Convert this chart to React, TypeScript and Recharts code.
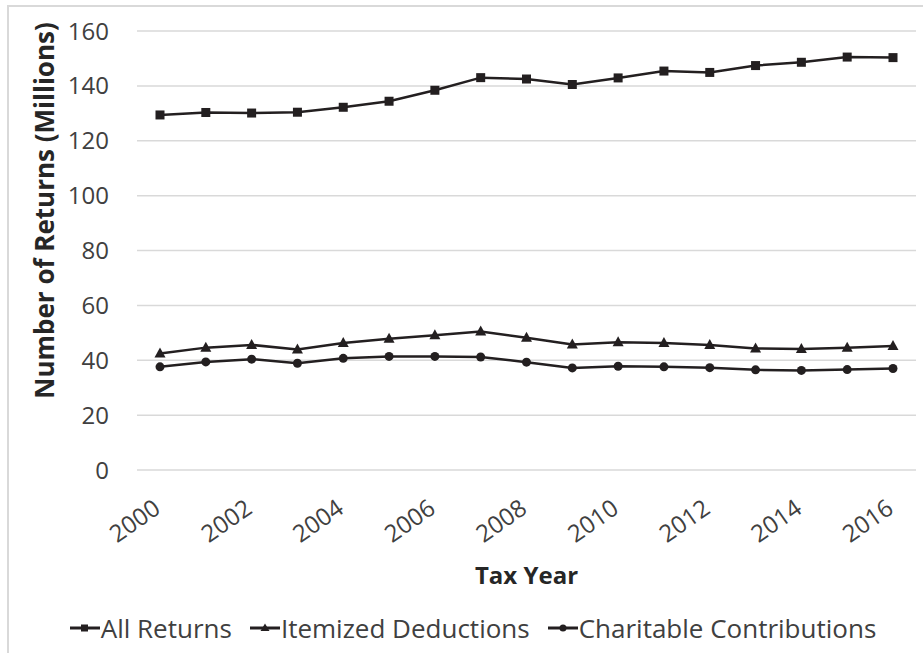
import React from "react";
import {
  LineChart,
  Line,
  XAxis,
  YAxis,
  CartesianGrid,
  Legend,
  Label,
} from "recharts";

// ── data ────────────────────────────────────────────────────────────────────
const YEARS = [
  "2000", "2001", "2002", "2003", "2004", "2005", "2006", "2007", "2008",
  "2009", "2010", "2011", "2012", "2013", "2014", "2015", "2016",
];
const ALL_RETURNS = [
  129.4, 130.3, 130.1, 130.4, 132.2, 134.4, 138.4, 143.0, 142.5,
  140.5, 142.9, 145.4, 144.9, 147.4, 148.6, 150.5, 150.3,
];
const ITEMIZED = [
  42.5, 44.6, 45.6, 43.9, 46.3, 47.8, 49.1, 50.5, 48.2,
  45.7, 46.6, 46.3, 45.6, 44.3, 44.1, 44.6, 45.2,
];
const CHARITABLE = [
  37.6, 39.4, 40.4, 38.9, 40.7, 41.4, 41.4, 41.2, 39.3,
  37.2, 37.8, 37.6, 37.3, 36.5, 36.3, 36.6, 37.0,
];
const Y_TICKS = [0, 20, 40, 60, 80, 100, 120, 140, 160];

const data = YEARS.map((year, i) => ({
  year,
  all: ALL_RETURNS[i],
  itemized: ITEMIZED[i],
  charitable: CHARITABLE[i],
}));

// ── styles ──────────────────────────────────────────────────────────────────
const FONT = '"Open Sans", sans-serif';
const INK = "#231f20";
const TEXT = "#404040";
const GRID = "#d9d9d9";

// ── markers ─────────────────────────────────────────────────────────────────
const SquareDot = (props: any) => {
  const { cx, cy, key } = props;
  if (cx == null || cy == null) return null;
  return <rect key={key} x={cx - 4.5} y={cy - 4.5} width={9} height={9} fill={INK} />;
};

const TriangleDot = (props: any) => {
  const { cx, cy, key } = props;
  if (cx == null || cy == null) return null;
  return (
    <polygon
      key={key}
      points={`${cx},${cy - 6} ${cx + 5.5},${cy + 4} ${cx - 5.5},${cy + 4}`}
      fill={INK}
    />
  );
};

const CircleDot = (props: any) => {
  const { cx, cy, key } = props;
  if (cx == null || cy == null) return null;
  return <circle key={key} cx={cx} cy={cy} r={4.5} fill={INK} />;
};

const XTick = ({ x, y, payload }: any) => (
  <g transform={`translate(${x + 2},${y + 42}) rotate(-35)`}>
    <text x={0} y={0} textAnchor="end" fontFamily={FONT} fontSize={24} fill={TEXT}>
      {payload.value}
    </text>
  </g>
);

const LEGEND_ITEMS = [
  { name: "All Returns", shape: "square" },
  { name: "Itemized Deductions", shape: "triangle" },
  { name: "Charitable Contributions", shape: "circle" },
];

const LegendIcon = ({ shape }: { shape: string }) => (
  <svg width={30} height={14} style={{ display: "block" }}>
    <line x1={0} y1={7} x2={30} y2={7} stroke={INK} strokeWidth={3} />
    {shape === "square" && <rect x={11} y={3.5} width={7} height={7} fill={INK} />}
    {shape === "triangle" && <polygon points="15,2.5 19.5,10 10.5,10" fill={INK} />}
    {shape === "circle" && <circle cx={15} cy={7} r={3.5} fill={INK} />}
  </svg>
);

const renderLegend = () => (
  <div
    style={{
      display: "flex",
      justifyContent: "center",
      alignItems: "center",
      gap: 18,
      paddingLeft: 30,
      fontFamily: FONT,
      fontSize: 26,
      color: TEXT,
      height: 40,
    }}
  >
    {LEGEND_ITEMS.map((it) => (
      <div key={it.name} style={{ display: "flex", alignItems: "center" }}>
        <LegendIcon shape={it.shape} />
        <span style={{ marginLeft: 1 }}>{it.name}</span>
      </div>
    ))}
  </div>
);

const renderYLabel = (props: any) => {
  const vb = props.viewBox;
  const cx = 44;
  const cy = vb.y + vb.height / 2 - 40;
  return (
    <text
      x={cx}
      y={cy}
      transform={`rotate(-90 ${cx} ${cy})`}
      textAnchor="middle"
      dominantBaseline="central"
      fontFamily={FONT}
      fontSize={26}
      fontWeight={700}
      fill="#262626"
    >
      Number of Returns (Millions)
    </text>
  );
};

const renderXLabel = (props: any) => {
  const vb = props.viewBox;
  return (
    <text
      x={vb.x + vb.width / 2}
      y={vb.y + 114}
      textAnchor="middle"
      fontFamily={FONT}
      fontSize={24}
      fontWeight={700}
      fill="#262626"
    >
      Tax Year
    </text>
  );
};

export default function App() {
  return (
    <div
      style={{
        position: "absolute",
        left: 0,
        top: 0,
        width: 923,
        height: 653,
        overflow: "hidden",
        background: "#fff",
      }}
    >
      <div
        style={{
          position: "absolute",
          left: 7,
          top: 5,
          width: 940,
          height: 670,
          border: "2px solid #d9d9d9",
        }}
      />
      <LineChart
        width={923}
        height={653}
        data={data}
        margin={{ top: 31, right: 7, bottom: 5, left: 0 }}
      >
        <CartesianGrid vertical={false} stroke={GRID} strokeWidth={1.5} />
        <XAxis
          dataKey="year"
          interval={1}
          axisLine={false}
          tickLine={false}
          tickSize={0}
          tickMargin={0}
          height={138}
          padding={{ left: 23, right: 23 }}
          tick={<XTick />}
        >
          <Label content={renderXLabel} />
        </XAxis>
        <YAxis
          domain={[0, 160]}
          ticks={Y_TICKS}
          axisLine={false}
          tickLine={false}
          tickSize={0}
          tickMargin={28}
          width={137}
          tick={{ fontFamily: FONT, fontSize: 24, fill: TEXT }}
        >
          <Label content={renderYLabel} />
        </YAxis>
        <Legend verticalAlign="bottom" content={renderLegend} wrapperStyle={{ height: 40 }} />
        <Line
          dataKey="all"
          name="All Returns"
          stroke={INK}
          strokeWidth={2.5}
          dot={SquareDot}
          isAnimationActive={false}
        />
        <Line
          dataKey="itemized"
          name="Itemized Deductions"
          stroke={INK}
          strokeWidth={2.5}
          dot={TriangleDot}
          isAnimationActive={false}
        />
        <Line
          dataKey="charitable"
          name="Charitable Contributions"
          stroke={INK}
          strokeWidth={2.5}
          dot={CircleDot}
          isAnimationActive={false}
        />
      </LineChart>
    </div>
  );
}
